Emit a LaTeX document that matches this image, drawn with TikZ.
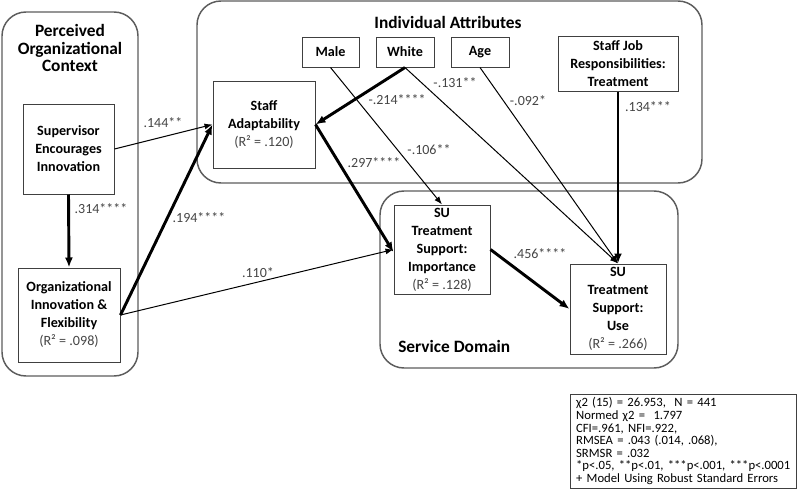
\documentclass[tikz,border=0pt]{standalone}
\usepackage{fontspec}
\setmainfont{Carlito}
\usetikzlibrary{arrows.meta}
\definecolor{FrameGray}{rgb}{0.36,0.36,0.36}
\definecolor{BoxGray}{rgb}{0.25,0.25,0.25}
\definecolor{LabelGray}{rgb}{0.27,0.27,0.27}

\tikzset{
  groupframe/.style={draw=FrameGray, line width=1.1pt, rounded corners=18pt},
  varbox/.style={draw=BoxGray, line width=0.75pt, fill=white, align=center, inner sep=0.75pt, font=\bfseries\fontsize{10.6}{13.5}\selectfont},
  coef/.style={text=LabelGray, inner sep=0.75pt, font=\fontsize{10.5}{12}\selectfont},
  grouptitle/.style={align=center, inner sep=0.75pt, font=\bfseries\fontsize{13}{13.3}\selectfont},
  thinpath/.style={-{Latex[length=6pt,width=4.5pt]}, line width=0.75pt},
  thickpath/.style={-{Latex[length=7.5pt,width=6pt]}, line width=2.2pt},
}
\newcommand{\rsq}[1]{{\mdseries\color{LabelGray}(R² = #1)}}

\begin{document}
\begin{tikzpicture}[x=0.75pt,y=0.75pt,yscale=-1,xscale=1]
  \useasboundingbox (0,0) rectangle (800,490);

  %Group frames
  \draw [groupframe] (2,12) rectangle (138,376);
  \draw [groupframe] (197,1) rectangle (702,183);
  \draw [groupframe] (380,191) rectangle (678,368);

  % Group titles
  \node [grouptitle] (ctxtitle) at (70,48) {Perceived\\Organizational\\Context};
  \node [grouptitle] (attrtitle) at (448,22) {Individual Attributes};
  \node [grouptitle, anchor=west] (domtitle) at (397,346) {Service Domain};

  % Variables
  \node [varbox, minimum width=68.25pt, minimum height=67.5pt] (sup) at (68.5,149) {Supervisor\\Encourages\\Innovation};
  \node [varbox, minimum width=76.5pt, minimum height=70.5pt] (org) at (69,315) {Organizational\\Innovation \&\\Flexibility\\\rsq{.098}};
  \node [varbox, minimum width=76.5pt, minimum height=65.25pt] (adapt) at (264,124.5) {Staff\\Adaptability\\\rsq{.120}};
  \node [varbox, minimum width=42.75pt, minimum height=22.5pt] (male) at (330.5,52) {Male};
  \node [varbox, minimum width=43.5pt, minimum height=22.5pt] (white) at (405,52) {White};
  \node [varbox, minimum width=43.5pt, minimum height=22.5pt] (age) at (480,52) {Age};
  \node [varbox, minimum width=90pt, minimum height=41.25pt] (job) at (618,63.5) {Staff Job\\Responsibilities:\\Treatment};
  \node [varbox, minimum width=72pt, minimum height=66.75pt] (imp) at (442,249.5) {SU\\Treatment\\Support:\\Importance\\\rsq{.128}};
  \node [varbox, minimum width=72pt, minimum height=67.5pt] (use) at (618,309) {SU\\Treatment\\Support:\\Use\\\rsq{.266}};

  % Paths
  \draw [thinpath] (sup.east) -- (adapt.west);
  \draw [thickpath] (sup.south) -- (org.north);
  \draw [thickpath] (org.east) -- (adapt.west);
  \draw [thinpath] (org.east) -- (imp.west);
  \draw [thickpath] (white.south) -- (adapt.east);
  \draw [thinpath] (white.south) -- (use.north);
  \draw [thinpath] (male.south) -- (imp.north);
  \draw [thinpath] (age.south) -- (use.north);
  \draw [thickpath] (job.south) -- (use.north);
  \draw [thickpath] (adapt.east) -- ([yshift=2pt]imp.west);
  \draw [thickpath] (imp.east) -- (use.west);

  % Coefficients
  \node [coef] (c144) at (163,123) {.144**};
  \node [coef] (c314) at (101,209) {.314****};
  \node [coef] (c194) at (199,218) {.194****};
  \node [coef] (c110) at (258,273) {.110*};
  \node [coef] (c214) at (397,100) {-.214****};
  \node [coef] (c131) at (455,83) {-.131**};
  \node [coef] (c106) at (429,150) {-.106**};
  \node [coef] (c092) at (528,101) {-.092*};
  \node [coef] (c134) at (648,107) {.134***};
  \node [coef] (c297) at (374,163) {.297****};
  \node [coef] (c456) at (540,254) {.456****};

  % Fit statistics
  \node [draw=BoxGray, line width=0.75pt, align=left, text width=161pt, inner xsep=4.6pt, inner ysep=0.75pt, minimum height=70.5pt, font=\fontsize{9.5}{9.4}\selectfont] (stats) at (683.5,441) {χ2 (15) = 26.953,\ \ N = 441\\
    Normed χ2 =\ \ 1.797\\
    CFI=.961, NFI=.922,\\
    RMSEA = .043 (.014, .068),\\
    SRMSR = .032\\
    \relax*p<.05, **p<.01, ***p<.001, ***p<.0001\\
    + Model Using Robust Standard Errors};

\end{tikzpicture}
\end{document}
